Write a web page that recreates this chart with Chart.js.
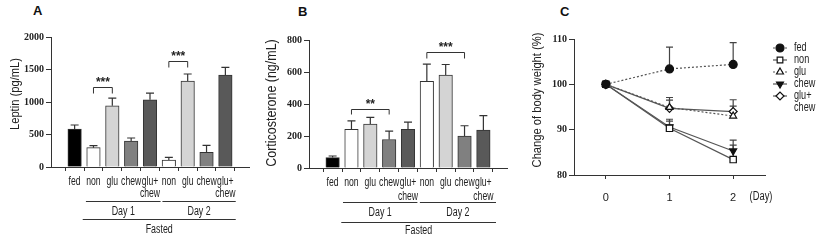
<!DOCTYPE html>
<html>
<head>
<meta charset="utf-8">
<script src="https://cdn.jsdelivr.net/npm/chart.js@4.4.1/dist/chart.umd.min.js"></script>
<style>
  body { margin: 0; background: #fff; }
  #wrap { position: relative; width: 824px; height: 242px; overflow: hidden; }
  canvas { position: absolute; top: 0; }
  .letter { position: absolute; font: bold 13px "Liberation Sans", Arial, sans-serif; color: #111; }
</style>
</head>
<body>
<div id="wrap">
  <div class="letter" style="left:33px;top:3px">A</div>
  <div class="letter" style="left:298px;top:4px">B</div>
  <div class="letter" style="left:560px;top:4px">C</div>
  <canvas id="chartA" width="258" height="242" style="left:0"></canvas>
  <canvas id="chartB" width="262" height="242" style="left:258px"></canvas>
  <canvas id="chartC" width="304" height="242" style="left:520px"></canvas>
</div>
<script>
// groups on the bar panels
const categories = ['fed', 'non', 'glu', 'chew', ['glu+', 'chew'], 'non', 'glu', 'chew', ['glu+', 'chew']];
const barColors = ['#000000', '#ffffff', '#d4d4d4', '#808080', '#595959', '#ffffff', '#d4d4d4', '#808080', '#595959'];

// Panel A - leptin (pg/mL), mean and SEM
const leptinMean = [585, 297, 943, 400, 1035, 108, 1323, 225, 1415];
const leptinErr = [61, 31, 118, 46, 103, 40, 108, 107, 117];
const leptinTicks = [0, 500, 1000, 1500, 2000];

// Panel B - corticosterone (ng/mL)
const corticoMean = [65, 241, 274, 178, 241, 542, 580, 199, 237];
const corticoErr = [10, 54, 42, 52, 46, 107, 67, 65, 90];
const corticoTicks = [0, 200, 400, 600, 800];

// Panel C - change of body weight (%)
const days = [0, 1, 2];
const bwTicks = [80, 90, 100, 110];
const bwFed = [100, 103.4, 104.4];
const bwFedErr = [0, 4.8, 4.8];
const bwNon = [100, 90.3, 83.4];
const bwNonErr = [0, 1.6, 3.2];
const bwGlu = [100, 94.9, 93.0];
const bwGluErr = [0, 1.6, 2.2];
const bwChew = [100, 90.6, 85.3];
const bwChewErr = [0, 1.7, 2.4];
const bwGluChew = [100, 94.7, 94.0];
const bwGluChewErr = [0, 2.4, 2.6];
const bwLabels = ['fed', 'non', 'glu', 'chew', ['glu+', 'chew']];

const SANS = '"Liberation Sans", Arial, sans-serif';
const SERIF = '"Liberation Serif", "Times New Roman", serif';
const INK = '#222';

Chart.defaults.font.family = SANS;
Chart.defaults.color = INK;

// the figure uses a narrow Arial; squeeze regular Liberation Sans horizontally
function narrowText(ctx, text, x, y, o) {
  const lines = [].concat(text);
  ctx.save();
  ctx.font = (o.size || 12) + 'px ' + SANS;
  ctx.fillStyle = INK;
  ctx.textAlign = o.align || 'center';
  ctx.textBaseline = 'middle';
  ctx.translate(x, y);
  if (o.vertical) ctx.rotate(-Math.PI / 2);
  ctx.scale(o.squeeze || 0.74, 1);
  lines.forEach((t, j) => ctx.fillText(t, 0, j * (o.step || 12)));
  ctx.restore();
}

// error bars: vertical line from the mark up to mean + err, with a cap
const errorBars = {
  id: 'errorBars',
  beforeDatasetsDraw(chart, args, opts) {
    const ctx = chart.ctx;
    const yScale = chart.scales.y;
    ctx.save();
    ctx.strokeStyle = opts.color || '#333';
    ctx.lineWidth = 1.2;
    chart.data.datasets.forEach((ds, di) => {
      if (!ds.errors) return;
      const meta = chart.getDatasetMeta(di);
      meta.data.forEach((el, i) => {
        const err = ds.errors[i];
        if (!err) return;
        const top = yScale.getPixelForValue(ds.data[i].y + err);
        ctx.beginPath();
        ctx.moveTo(el.x, el.y);
        ctx.lineTo(el.x, top);
        ctx.moveTo(el.x - opts.cap, top);
        ctx.lineTo(el.x + opts.cap, top);
        ctx.stroke();
      });
    });
    ctx.restore();
  }
};

// y title, category labels, significance brackets and Day / Fasted group lines
const barExtras = {
  id: 'barExtras',
  afterDraw(chart, args, opts) {
    const ctx = chart.ctx;
    const xs = chart.scales.x, ys = chart.scales.y;
    const area = chart.chartArea;
    narrowText(ctx, opts.title, opts.titleX, opts.titleY, { size: opts.titleSize, squeeze: opts.titleSqueeze, vertical: true });
    categories.forEach((c, i) => {
      narrowText(ctx, c, xs.getPixelForValue(i), area.bottom + opts.labelGap, { size: 12, squeeze: 0.72, step: opts.labelStep });
    });
    ctx.save();
    ctx.strokeStyle = '#333';
    ctx.fillStyle = INK;
    ctx.lineWidth = 1;
    opts.brackets.forEach(b => {
      const x1 = xs.getPixelForValue(b.from), x2 = xs.getPixelForValue(b.to);
      const y = Math.round(ys.getPixelForValue(b.level)) + 0.5;
      ctx.beginPath();
      ctx.moveTo(x1, y + b.drop);
      ctx.lineTo(x1, y);
      ctx.lineTo(x2, y);
      ctx.lineTo(x2, y + b.drop);
      ctx.stroke();
      ctx.font = 'bold 12px ' + SANS;
      ctx.textAlign = 'center';
      ctx.textBaseline = 'middle';
      ctx.fillText(b.stars, (x1 + x2) / 2, y - 5);
    });
    opts.groups.forEach(g => {
      const x1 = xs.getPixelForValue(g.from), x2 = xs.getPixelForValue(g.to);
      ctx.beginPath();
      ctx.moveTo(x1, g.lineY + 0.5);
      ctx.lineTo(x2, g.lineY + 0.5);
      ctx.stroke();
      narrowText(ctx, g.label, (x1 + x2) / 2, g.textY, { size: 12, squeeze: 0.74 });
    });
    ctx.restore();
  }
};

function barPanel(canvasId, means, errs, ticks, box, extras) {
  const points = means.map((v, i) => ({ x: i, y: v }));
  return new Chart(document.getElementById(canvasId), {
    type: 'bar',
    data: {
      datasets: [{
        data: points,
        errors: errs,
        backgroundColor: barColors,
        borderColor: '#333',
        borderWidth: 1,
        barThickness: 13.5,
      }]
    },
    options: {
      responsive: false,
      animation: false,
      layout: { padding: { left: 0, right: box.right, top: box.top, bottom: 0 } },
      plugins: {
        legend: { display: false },
        tooltip: { enabled: false },
        errorBars: { cap: 4 },
        barExtras: extras,
      },
      scales: {
        x: {
          type: 'linear',
          min: -0.67,
          max: 8.67,
          afterBuildTicks: (s) => { s.ticks = categories.map((c, i) => ({ value: i })); },
          afterFit: (s) => { s.height = box.xHeight; },
          grid: { drawOnChartArea: false, tickLength: 4, color: '#333' },
          border: { color: '#333', width: 1 },
          ticks: { autoSkip: false, maxRotation: 0, callback: () => '' }
        },
        y: {
          min: ticks[0],
          max: ticks[ticks.length - 1],
          afterBuildTicks: (s) => { s.ticks = ticks.map(v => ({ value: v })); },
          afterFit: (s) => { s.width = box.yWidth; },
          grid: { drawOnChartArea: false, tickLength: 5, color: '#333' },
          border: { color: '#333', width: 1 },
          ticks: { padding: 2, font: { family: SERIF, weight: 'bold', size: 10 }, color: INK, callback: (v) => String(v) }
        }
      }
    },
    plugins: [errorBars, barExtras]
  });
}

barPanel('chartA', leptinMean, leptinErr, leptinTicks,
  { top: 37, right: 9, xHeight: 75, yWidth: 51 },
  {
    title: 'Leptin (pg/mL)', titleX: 15, titleY: 94, titleSize: 13, titleSqueeze: 0.86,
    labelGap: 15, labelStep: 12,
    brackets: [
      { from: 1, to: 2, level: 1230, drop: 6, stars: '***' },
      { from: 5, to: 6, level: 1625, drop: 6, stars: '***' },
    ],
    groups: [
      { from: 0.6, to: 4.56, lineY: 201, textY: 212, label: 'Day 1' },
      { from: 4.66, to: 8.55, lineY: 201, textY: 212, label: 'Day 2' },
      { from: 0.43, to: 8.55, lineY: 219, textY: 230, label: 'Fasted' },
    ]
  });

barPanel('chartB', corticoMean, corticoErr, corticoTicks,
  { top: 40, right: 13, xHeight: 74, yWidth: 51 },
  {
    title: 'Corticosterone (ng/mL)', titleX: 14, titleY: 103, titleSize: 14, titleSqueeze: 0.89,
    labelGap: 15, labelStep: 14,
    brackets: [
      { from: 1, to: 3, level: 368, drop: 5, stars: '**' },
      { from: 5, to: 7, level: 722, drop: 6, stars: '***' },
    ],
    groups: [
      { from: 0.55, to: 4.5, lineY: 202, textY: 213, label: 'Day 1' },
      { from: 4.63, to: 8.67, lineY: 202, textY: 213, label: 'Day 2' },
      { from: 0.46, to: 8.67, lineY: 222, textY: 231, label: 'Fasted' },
    ]
  });

// Panel C: line chart, legend drawn by hand (line + marker + text)
const bwLegend = {
  id: 'bwLegend',
  afterDraw(chart, args, opts) {
    const ctx = chart.ctx;
    narrowText(ctx, 'Change of body weight (%)', opts.titleX, opts.titleY, { size: 13, squeeze: 0.86, vertical: true });
    narrowText(ctx, '(Day)', chart.chartArea.right - 4, 197, { size: 12, squeeze: 0.78 });
    ctx.save();
    chart.data.datasets.forEach((ds, di) => {
      const y = opts.top + di * opts.step;
      ctx.strokeStyle = ds.borderColor;
      ctx.lineWidth = 1.2;
      ctx.setLineDash(ds.borderDash || []);
      ctx.beginPath();
      ctx.moveTo(opts.x, y);
      ctx.lineTo(opts.x + 14, y);
      ctx.stroke();
      ctx.setLineDash([]);
      ctx.fillStyle = ds.legendFill;
      ctx.strokeStyle = '#111';
      Chart.helpers.drawPoint(ctx, {
        pointStyle: ds.pointStyle, radius: 4, rotation: ds.pointRotation || 0, borderWidth: 1.2
      }, opts.x + 7, y);
      narrowText(ctx, bwLabels[di], opts.x + 21, y, { size: 12, squeeze: 0.76, align: 'left', step: opts.step });
    });
    ctx.restore();
  }
};

function bwSeries(label, values, errs, style) {
  return Object.assign({
    label: label,
    data: values.map((v, i) => ({ x: days[i], y: v })),
    errors: errs,
    borderColor: '#555',
    borderWidth: 1.2,
    pointBorderColor: '#111',
    pointBorderWidth: 1.2,
    pointRadius: 4,
  }, style);
}

new Chart(document.getElementById('chartC'), {
  type: 'line',
  data: {
    datasets: [
      bwSeries('fed', bwFed, bwFedErr, { borderDash: [2, 2], pointStyle: 'circle', pointBackgroundColor: '#111', legendFill: '#111', order: 3 }),
      bwSeries('non', bwNon, bwNonErr, { pointStyle: 'rect', pointRadius: 4.5, pointBackgroundColor: ['#111', '#fff', '#fff'], legendFill: '#fff', order: 0 }),
      bwSeries('glu', bwGlu, bwGluErr, { borderDash: [2, 2], pointStyle: 'triangle', pointBackgroundColor: '#fff', legendFill: '#fff', order: 2 }),
      bwSeries('chew', bwChew, bwChewErr, { pointStyle: 'triangle', pointRotation: 180, pointBackgroundColor: '#111', legendFill: '#111', order: 1 }),
      bwSeries('glu+chew', bwGluChew, bwGluChewErr, { pointStyle: 'rectRot', pointBackgroundColor: '#fff', legendFill: '#fff', order: 4 }),
    ]
  },
  options: {
    responsive: false,
    animation: false,
    layout: { padding: { left: 0, right: 59, top: 39, bottom: 0 } },
    plugins: {
      legend: { display: false },
      tooltip: { enabled: false },
      errorBars: { cap: 3.5, color: '#444' },
      bwLegend: { x: 253, top: 48, step: 12, titleX: 17, titleY: 100 },
    },
    scales: {
      x: {
        type: 'linear',
        min: -0.5,
        max: 2.5,
        afterBuildTicks: (s) => { s.ticks = days.map(v => ({ value: v })); },
        afterFit: (s) => { s.height = 67; },
        grid: { drawOnChartArea: false, tickLength: 4, color: '#333' },
        border: { color: '#333', width: 1 },
        ticks: { padding: 12, font: { size: 11 }, color: INK }
      },
      y: {
        min: 80,
        max: 110,
        afterBuildTicks: (s) => { s.ticks = bwTicks.map(v => ({ value: v })); },
        afterFit: (s) => { s.width = 54; },
        grid: { drawOnChartArea: false, tickLength: 5, color: '#333' },
        border: { color: '#333', width: 1 },
        ticks: { padding: 2, font: { family: SERIF, weight: 'bold', size: 10 }, color: INK }
      }
    }
  },
  plugins: [errorBars, bwLegend]
});
</script>
</body>
</html>
